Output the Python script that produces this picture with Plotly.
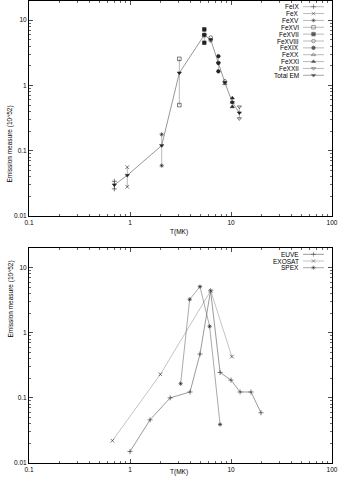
import plotly.graph_objects as go

W, H = 339, 484

# ---- top panel: Fe ion emission measures vs temperature ----
ion_names = ["FeIX", "FeX", "FeXV", "FeXVI", "FeXVII", "FeXVIII",
             "FeXIX", "FeXX", "FeXXI", "FeXXII"]
ion_T = [[0.7, 0.7], [0.94, 0.94], [2.06, 2.06], [3.08, 3.08],
         [5.44, 5.44, 5.44], [6.3, 6.3], [7.5, 7.5, 7.5], [8.7, 8.7],
         [10.3, 10.3, 10.3], [12.1, 12.1]]
ion_EM = [[0.034, 0.026], [0.056, 0.028], [0.178, 0.059], [2.55, 0.50],
          [7.2, 5.9, 4.5], [5.4, 4.9], [2.8, 2.2, 1.64], [1.18, 1.06],
          [0.64, 0.55, 0.47], [0.47, 0.31]]
total_T = [0.7, 0.94, 2.06, 3.08, 5.44, 6.3, 7.5, 8.7, 10.3, 12.1]
total_EM = [0.030, 0.042, 0.12, 1.55, 5.9, 5.0, 2.2, 1.1, 0.55, 0.38]

# ---- bottom panel: instrument DEMs ----
euve_T = [1.0, 1.58, 2.5, 3.93, 4.93, 6.28, 7.8, 10.0, 12.3, 15.8, 19.8]
euve_EM = [0.015, 0.046, 0.1, 0.123, 0.47, 4.4, 0.245, 0.187, 0.123, 0.123, 0.059]
exosat_T = [0.67, 2.0, 6.3, 10.2]
exosat_EM = [0.022, 0.23, 4.4, 0.43]
spex_T = [3.17, 3.9, 4.93, 6.14, 7.8]
spex_EM = [0.165, 3.25, 5.1, 1.25, 0.039]

# gnuplot point types 1..11
symbols = ["cross-thin-open", "x-thin-open", "asterisk-open", "square-open",
           "square", "circle-open", "circle", "triangle-up-open",
           "triangle-up", "triangle-down-open", "triangle-down"]

FONT = "Liberation Sans, Arial, sans-serif"
FS = 6.5
MS = 3.6

fig = go.Figure()


def mk(sym, size=MS):
    return dict(symbol=sym, size=size, color="#222",
                line=dict(width=0.6, color="#222"))


# top panel traces
for i, name in enumerate(ion_names):
    fig.add_trace(go.Scatter(x=ion_T[i], y=ion_EM[i], mode="lines+markers",
                             line=dict(color="#8a8a8a", width=0.6),
                             marker=mk(symbols[i]), name=name,
                             xaxis="x", yaxis="y", showlegend=False))
fig.add_trace(go.Scatter(x=total_T, y=total_EM, mode="lines+markers",
                         line=dict(color="#6a6a6a", width=0.7),
                         marker=mk(symbols[10]), name="Total EM",
                         xaxis="x", yaxis="y", showlegend=False))

# bottom panel traces
bottom = [("EUVE", euve_T, euve_EM, "#555555"),
          ("EXOSAT", exosat_T, exosat_EM, "#9a9a9a"),
          ("SPEX", spex_T, spex_EM, "#6f6f6f")]
for i, (name, t, em, col) in enumerate(bottom):
    fig.add_trace(go.Scatter(x=t, y=em, mode="lines+markers",
                             line=dict(color=col, width=0.6),
                             marker=mk(symbols[i]), name=name,
                             xaxis="x2", yaxis="y2", showlegend=False))

# ---- hand-made gnuplot style keys (text, then sample) ----
annotations = []


def key(labels, syms, colors, y0, dy):
    for i, lab in enumerate(labels):
        yr = y0 + i * dy
        annotations.append(dict(text=lab, xref="paper", yref="paper",
                                x=301 / W, y=1 - yr / H, xanchor="right",
                                yanchor="middle", showarrow=False,
                                font=dict(family=FONT, size=FS, color="black")))
        fig.add_trace(go.Scatter(x=[303, 313.5, 324], y=[yr, yr, yr],
                                 mode="lines+markers",
                                 line=dict(color=colors[i], width=0.6),
                                 marker=dict(mk(syms[i]), size=[0, MS, 0]),
                                 xaxis="x3", yaxis="y3", showlegend=False,
                                 hoverinfo="skip"))


key(ion_names + ["Total EM"], symbols, ["#8a8a8a"] * 10 + ["#6a6a6a"], 6.7, 6.86)
key([b[0] for b in bottom], symbols[:3], [b[3] for b in bottom], 254.3, 6.7)

# axis titles
for ymid, xlab_y in [(104, 231.5), (340, 478)]:
    annotations.append(dict(text="Emission measure (10^52)", xref="paper",
                            yref="paper", x=4 / W, y=1 - ymid / H,
                            textangle=-90, showarrow=False,
                            font=dict(family=FONT, size=FS, color="black")))
    annotations.append(dict(text="T(MK)", xref="paper", yref="paper",
                            x=179 / W, y=1 - xlab_y / H, showarrow=False,
                            font=dict(family=FONT, size=FS, color="black")))

minor_x = [k * 10 ** e for e in (-1, 0, 1) for k in range(2, 10)]
minor_y = [k * 10 ** e for e in (-2, -1, 0, 1) for k in range(2, 10)]


def xax(anchor):
    return dict(type="log", range=[-1, 2], domain=[29 / W, 332 / W],
                anchor=anchor, showgrid=False, zeroline=False,
                showline=True, linecolor="black", linewidth=1, mirror="allticks",
                ticks="inside", ticklen=4, tickwidth=0.7, tickcolor="black",
                tickvals=[0.1, 1, 10, 100], ticktext=["0.1", "1", "10", "100"],
                tickfont=dict(family=FONT, size=FS, color="black"),
                minor=dict(ticks="inside", ticklen=2, tickwidth=0.6,
                           tickcolor="black", tickvals=minor_x, showgrid=False),
                automargin=False, fixedrange=True)


def yax(anchor, dom):
    return dict(type="log", range=[-2, 1.3], domain=dom,
                anchor=anchor, showgrid=False, zeroline=False,
                showline=True, linecolor="black", linewidth=1, mirror="allticks",
                ticks="inside", ticklen=4, tickwidth=0.7, tickcolor="black",
                tickvals=[0.01, 0.1, 1, 10], ticktext=["0.01", "0.1", "1", "10"],
                tickfont=dict(family=FONT, size=FS, color="black"),
                minor=dict(ticks="inside", ticklen=2, tickwidth=0.6,
                           tickcolor="black", tickvals=minor_y, showgrid=False),
                automargin=False, fixedrange=True)


fig.update_layout(
    width=W, height=H,
    margin=dict(l=0, r=0, t=0, b=0),
    paper_bgcolor="white", plot_bgcolor="rgba(0,0,0,0)",
    font=dict(family=FONT, size=FS, color="black"),
    xaxis=xax("y"),
    yaxis=yax("x", [1 - 216 / H, 1 - 0.5 / H]),
    xaxis2=xax("y2"),
    yaxis2=yax("x2", [1 - 463 / H, 1 - 248 / H]),
    xaxis3=dict(domain=[0, 1], range=[0, W], anchor="y3", visible=False,
                fixedrange=True),
    yaxis3=dict(domain=[0, 1], range=[H, 0], anchor="x3", visible=False,
                fixedrange=True),
    annotations=annotations,
    showlegend=False,
)

# drop the browser's default 8px body margin so the figure sits at 0,0
fig.write_html("out.html",
               config={"displayModeBar": False, "staticPlot": True},
               post_script="document.body.style.margin='0';"
                           "document.body.style.overflow='hidden';")
